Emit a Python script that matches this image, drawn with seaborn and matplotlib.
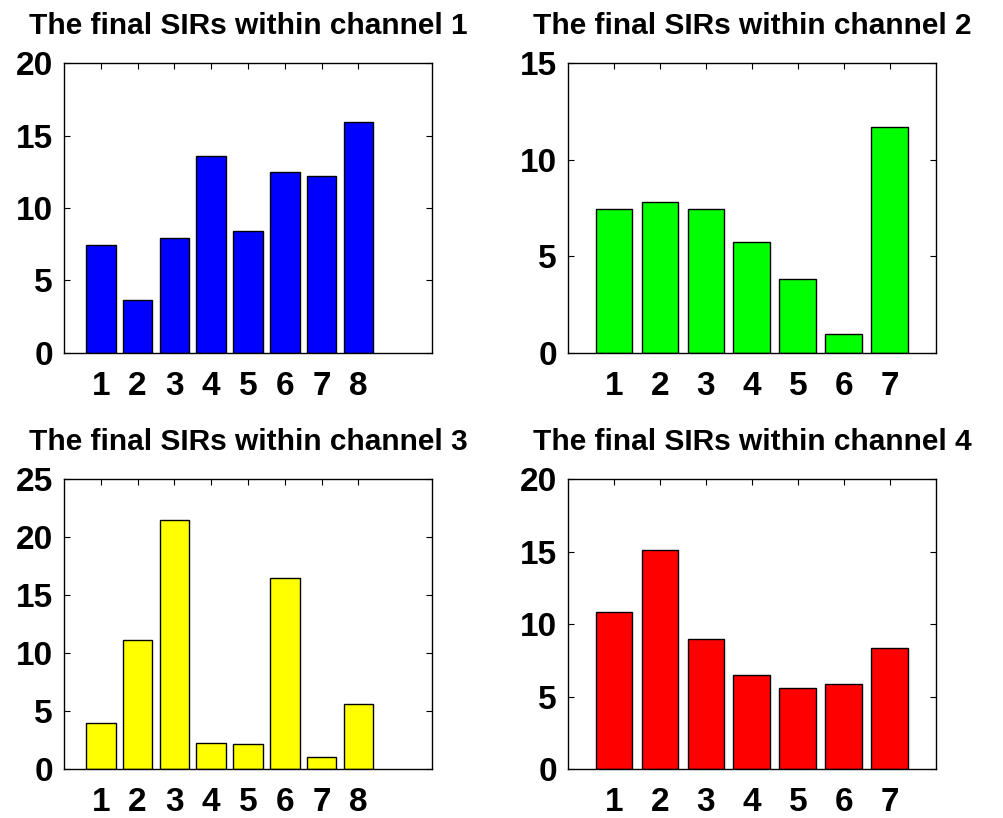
import matplotlib
matplotlib.use("Agg")
import matplotlib.pyplot as plt
from matplotlib import font_manager as fm
import seaborn as sns
import pandas as pd

sns.set_theme(style="white")
plt.rcParams['font.family'] = ['Liberation Sans', 'DejaVu Sans']

# Data
ch1_users = [1, 2, 3, 4, 5, 6, 7, 8]
ch1_sir = [7.42, 3.62, 7.93, 13.57, 8.43, 12.51, 12.19, 15.97]
ch2_users = [1, 2, 3, 4, 5, 6, 7]
ch2_sir = [7.43, 7.81, 7.43, 5.74, 3.84, 0.98, 11.68]
ch3_users = [1, 2, 3, 4, 5, 6, 7, 8]
ch3_sir = [3.97, 11.16, 21.52, 2.24, 2.13, 16.48, 1.01, 5.64]
ch4_users = [1, 2, 3, 4, 5, 6, 7]
ch4_sir = [10.82, 15.10, 9.00, 6.47, 5.59, 5.85, 8.35]

titles = ["The final SIRs within channel 1", "The final SIRs within channel 2",
          "The final SIRs within channel 3", "The final SIRs within channel 4"]
colors = ["#0000ff", "#00ff00", "#ffff00", "#ff0000"]
xlims = [(0, 10), (0, 8), (0, 10), (0, 8)]
ylims = [(0, 20), (0, 15), (0, 25), (0, 20)]
yticks = [[0, 5, 10, 15, 20], [0, 5, 10, 15], [0, 5, 10, 15, 20, 25], [0, 5, 10, 15, 20]]

panels = [(ch1_users, ch1_sir), (ch2_users, ch2_sir), (ch3_users, ch3_sir), (ch4_users, ch4_sir)]


def fprop(size):
    return fm.FontProperties(family=["Liberation Sans", "DejaVu Sans"], weight="bold", size=size)


fig = plt.figure(figsize=(10.04, 8.18), dpi=100)
W, H = 1004, 818
boxes = [(64, 63.3, 432, 352.7), (568, 63.3, 935.7, 352.7),
         (64, 479.3, 432, 769), (568, 479.3, 935.7, 769)]

for i, ((users, vals), box) in enumerate(zip(panels, boxes)):
    l, t, r, b = box
    ax = fig.add_axes([l / W, 1 - b / H, (r - l) / W, (b - t) / H])
    df = pd.DataFrame({"user": users, "sir": vals})
    sns.barplot(data=df, x="user", y="sir", native_scale=True, color=colors[i],
                saturation=1, edgecolor="black", linewidth=1.0, width=0.8, ax=ax, errorbar=None)
    ax.set_xlim(*xlims[i])
    ax.set_ylim(*ylims[i])
    ax.set_xticks(users)
    ax.set_xticklabels([str(u) for u in users], fontproperties=fprop(24))
    ax.set_yticks(yticks[i])
    ax.set_yticklabels([str(y) for y in yticks[i]], fontproperties=fprop(24))
    ax.set_xlabel("")
    ax.set_ylabel("")
    ax.set_facecolor("white")
    for s in ax.spines.values():
        s.set_visible(True)
        s.set_color("black")
        s.set_linewidth(1.0)
    ax.tick_params(axis="x", direction="in", length=4, width=0.8, top=True, bottom=True,
                   pad=13, colors="black")
    ax.tick_params(axis="y", direction="in", length=4, width=0.8, left=True, right=True,
                   pad=8, colors="black")
    ax.set_title(titles[i], fontproperties=fprop(21.5), pad=21, color="black")

fig.savefig("out.png", dpi=100, facecolor="white")
